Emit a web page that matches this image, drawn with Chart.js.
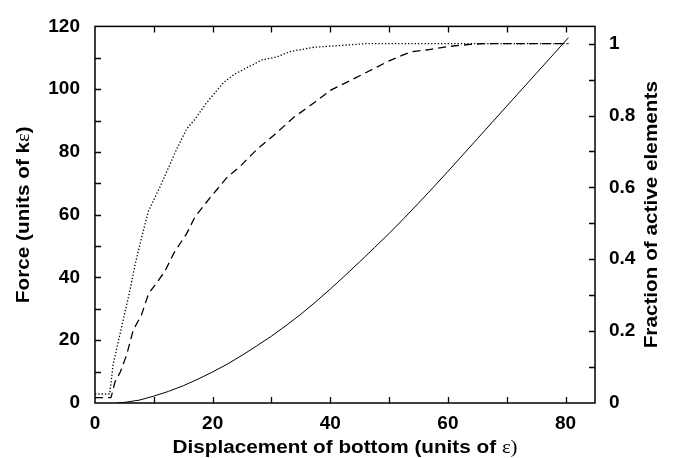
<!DOCTYPE html>
<html><head><meta charset="utf-8">
<script src="https://cdn.jsdelivr.net/npm/chart.js@4"></script>
<style>html,body{margin:0;padding:0;background:#fff}#wrap{width:673px;height:458px}</style>
</head><body><div id="wrap"><canvas id="c" width="673" height="458"></canvas></div>
<script>
// Force (left axis), solid line
const forceX = [3.7, 5, 7.5, 10, 12.5, 15, 17.5, 20, 22.5, 25, 27.5, 30, 32.5, 35, 37.5, 40, 42.5, 45, 47.5, 50, 52.5, 55, 57.5, 60, 62.5, 65, 67.5, 70, 72.5, 75, 77.5, 80, 80.5];
const forceY = [0, 0.2, 0.9, 2.2, 3.7, 5.5, 7.6, 9.9, 12.4, 15.2, 18.2, 21.3, 24.7, 28.3, 32.2, 36.3, 40.6, 45.0, 49.5, 54.0, 58.8, 63.7, 68.7, 73.8, 79.0, 84.2, 89.4, 94.6, 99.8, 105.0, 110.2, 115.4, 116.4];
// Fraction of active elements (right axis), dashed line
const dashedX = [0, 2.7, 2.9, 3.4, 4.3, 5.4, 6.5, 7.9, 9.1, 10.5, 11.9, 13.4, 15.6, 17.0, 19.6, 22.4, 24.7, 27.6, 30.4, 33.8, 37.3, 40.0, 44.2, 50, 53.6, 56.6, 60, 63.8, 66, 80.5];
const dashedY = [0.015, 0.015, 0.026, 0.059, 0.086, 0.135, 0.203, 0.245, 0.304, 0.335, 0.367, 0.417, 0.472, 0.518, 0.572, 0.627, 0.659, 0.707, 0.745, 0.795, 0.836, 0.870, 0.904, 0.952, 0.977, 0.983, 0.992, 0.998, 1.0, 1.0];
// Fraction of active elements (right axis), dotted line
const dottedX = [0, 2.5, 3.1, 6.0, 6.8, 8.1, 9.1, 11.1, 13.9, 15.6, 17.0, 19.0, 21.8, 23.6, 28.4, 30.9, 33.2, 37.2, 40.0, 46, 80.5];
const dottedY = [0.025, 0.025, 0.109, 0.318, 0.384, 0.472, 0.535, 0.603, 0.707, 0.763, 0.790, 0.836, 0.891, 0.914, 0.955, 0.963, 0.978, 0.990, 0.993, 1.0, 1.0];

const xTicks = [0, 10, 20, 30, 40, 50, 60, 70, 80];
const xTickLabels = ['0', '', '20', '', '40', '', '60', '', '80'];
const yTicks = [0, 10, 20, 30, 40, 50, 60, 70, 80, 90, 100, 110, 120];
const yTickLabels = ['0', '', '20', '', '40', '', '60', '', '80', '', '100', '', '120'];
const fracTicks = [0, 0.1, 0.2, 0.3, 0.4, 0.5, 0.6, 0.7, 0.8, 0.9, 1.0];
const fracTickLabels = ['0', '', '0.2', '', '0.4', '', '0.6', '', '0.8', '', '1'];
const xTitleParts = ['Displacement of bottom (units of ', 'ε', ')'];
const yTitleParts = ['Force (units of k', 'ε', ')'];
const y2Title = 'Fraction of active elements';

const FONT = 'Liberation Sans, Arial, sans-serif';
const BOLD = 'bold 18px ' + FONT;
const SYM = '18px Liberation Serif, DejaVu Serif, serif';
const pts = (xs, ys) => xs.map((x, i) => ({x, y: ys[i]}));

function partsWidth(ctx, parts) {
  return parts.reduce((s, p) => { ctx.font = p.font; return s + ctx.measureText(p.text).width; }, 0);
}
function drawParts(ctx, parts, cx, cy, k, rot, base) {
  const w = partsWidth(ctx, parts);
  ctx.save();
  ctx.translate(cx, cy);
  if (rot) ctx.rotate(-Math.PI / 2);
  ctx.scale(k, 1);
  ctx.textAlign = 'left';
  ctx.textBaseline = 'alphabetic';
  let x = -w / 2;
  parts.forEach(p => { ctx.font = p.font; ctx.fillText(p.text, x, base); x += ctx.measureText(p.text).width; });
  ctx.restore();
}

const frameTicks = {
  id: 'frameTicks',
  afterDraw(chart) {
    const {ctx, chartArea: a, scales} = chart;
    ctx.save();
    ctx.strokeStyle = '#000';
    ctx.lineWidth = 1.5;
    ctx.strokeRect(a.left, a.top, a.right - a.left, a.bottom - a.top);
    ctx.lineWidth = 1.3;
    const L = 6;
    ctx.beginPath();
    scales.x.ticks.forEach(t => {
      const p = Math.round(scales.x.getPixelForValue(t.value)) + 0.5;
      if (p <= a.left + 2 || p >= a.right - 2) return;
      ctx.moveTo(p, a.bottom); ctx.lineTo(p, a.bottom - L);
      ctx.moveTo(p, a.top); ctx.lineTo(p, a.top + L);
    });
    scales.y.ticks.forEach(t => {
      const p = Math.round(scales.y.getPixelForValue(t.value)) + 0.5;
      if (p <= a.top + 2 || p >= a.bottom - 2) return;
      ctx.moveTo(a.left, p); ctx.lineTo(a.left + L, p);
    });
    scales.y2.ticks.forEach(t => {
      const p = Math.round(scales.y2.getPixelForValue(t.value)) + 0.5;
      if (p <= a.top + 2 || p >= a.bottom - 2) return;
      ctx.moveTo(a.right, p); ctx.lineTo(a.right - L, p);
    });
    ctx.stroke();

    ctx.fillStyle = '#000';
    const xParts = [{text: xTitleParts[0], font: BOLD}, {text: xTitleParts[1], font: SYM}, {text: xTitleParts[2], font: SYM}];
    const yParts = [{text: yTitleParts[0], font: BOLD}, {text: yTitleParts[1], font: SYM}, {text: yTitleParts[2], font: BOLD}];
    const y2Parts = [{text: y2Title, font: BOLD}];
    const k = 345 / partsWidth(ctx, xParts);
    const cx = (a.left + a.right) / 2, cy = (a.top + a.bottom) / 2;
    drawParts(ctx, xParts, cx, 0, k, false, 453);
    drawParts(ctx, yParts, 22, cy, k, true, 6.5);
    drawParts(ctx, y2Parts, 650, cy, k, true, 6.5);
    ctx.restore();
  }
};

const tickFont = {family: FONT, size: 19, weight: 'bold'};

new Chart(document.getElementById('c'), {
  type: 'line',
  data: {
    datasets: [
      {data: pts(forceX, forceY), yAxisID: 'y', borderColor: '#000', borderWidth: 1, pointRadius: 0, tension: 0, fill: false},
      {data: pts(dashedX, dashedY), yAxisID: 'y2', borderColor: '#000', borderWidth: 1.3, borderDash: [8, 5], pointRadius: 0, tension: 0, fill: false},
      {data: pts(dottedX, dottedY), yAxisID: 'y2', borderColor: '#000', borderWidth: 1.3, borderDash: [1.3, 2], pointRadius: 0, tension: 0, fill: false}
    ]
  },
  options: {
    responsive: false,
    animation: false,
    devicePixelRatio: 1,
    layout: {padding: {top: 19, left: 0, right: 0, bottom: 0}},
    plugins: {legend: {display: false}, tooltip: {enabled: false}},
    scales: {
      x: {
        type: 'linear', min: 0, max: 85,
        afterBuildTicks: s => { s.ticks = xTicks.map(v => ({value: v})); },
        afterFit: s => { s.height = 55; },
        grid: {display: false, drawTicks: false}, border: {display: false},
        ticks: {autoSkip: false, maxRotation: 0, padding: 9, color: '#000', font: tickFont,
          callback: v => { const i = xTicks.indexOf(v); return i >= 0 ? xTickLabels[i] : ''; }}
      },
      y: {
        type: 'linear', position: 'left', min: 0, max: 120,
        afterBuildTicks: s => { s.ticks = yTicks.map(v => ({value: v})); },
        afterFit: s => { s.width = 95; },
        grid: {display: false, drawTicks: false}, border: {display: false},
        ticks: {autoSkip: false, padding: 15, color: '#000', font: tickFont,
          callback: v => { const i = yTicks.indexOf(v); return i >= 0 ? yTickLabels[i] : ''; }}
      },
      y2: {
        type: 'linear', position: 'right', min: 0, max: 120 / 114.5,
        afterBuildTicks: s => { s.ticks = fracTicks.map(v => ({value: v})); },
        afterFit: s => { s.width = 78; },
        grid: {display: false, drawTicks: false}, border: {display: false},
        ticks: {autoSkip: false, padding: 14, color: '#000', font: tickFont,
          callback: (v, i) => fracTickLabels[i] !== undefined ? fracTickLabels[i] : ''}
      }
    }
  },
  plugins: [frameTicks]
});
</script>
</body></html>
